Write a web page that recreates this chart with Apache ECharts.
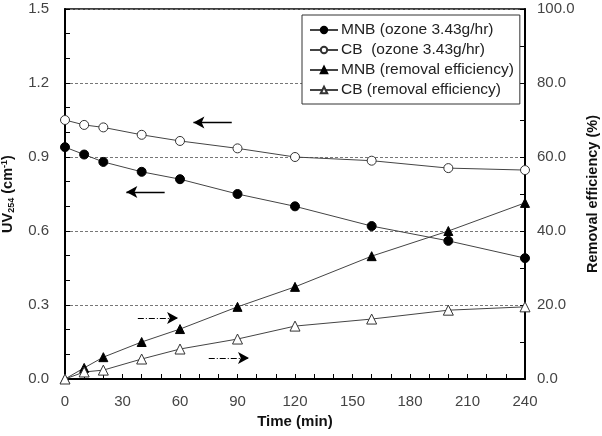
<!DOCTYPE html>
<html>
<head>
<meta charset="utf-8">
<script src="https://cdn.jsdelivr.net/npm/echarts@6/dist/echarts.min.js"></script>
<style>
	html, body { margin: 0; padding: 0; background: #fff; }
	#uvChart { width: 602px; height: 436px; }
</style>
</head>
<body>
<div id="uvChart"></div>
<script>

// sampling times (min)
var times = [0, 10, 20, 40, 60, 90, 120, 160, 200, 240];

// UV254 absorbance (cm-1), left axis
var mnbUV = [0.94, 0.91, 0.88, 0.84, 0.81, 0.75, 0.70, 0.62, 0.56, 0.49];
var cbUV = [1.05, 1.03, 1.02, 0.99, 0.965, 0.935, 0.90, 0.885, 0.855, 0.847];

// removal efficiency (%), right axis
var mnbRemoval = [0, 3.0, 5.9, 10.0, 13.5, 19.5, 24.9, 33.2, 40.0, 47.6];
var cbRemoval = [0, 1.9, 2.4, 5.4, 8.1, 10.8, 14.3, 16.2, 18.6, 19.5];

var legendNames = ['MNB (ozone 3.43g/hr)', 'CB  (ozone 3.43g/hr)', 'MNB (removal efficiency)', 'CB (removal efficiency)'];

// arrows telling which axis each pair of curves belongs to [x0, y0, x1, y1]
var leftArrows = [[87, 1.04, 67, 1.04], [52, 0.758, 32, 0.758]];
var rightArrows = [[38, 16.5, 59, 16.5], [75, 5.7, 96, 5.7]];

function pairUp(xs, ys) {
	return xs.map(function (x, i) {
		return [x, ys[i]];
	});
}

function arrowLines(list) {
	return list.map(function (a) {
		return [{ coord: [a[0], a[1]] }, { coord: [a[2], a[3]] }];
	});
}

var font = 'Liberation Sans, Arial, sans-serif';
var lineColor = '#444';

var uvChart = echarts.init(document.getElementById('uvChart'));

uvChart.setOption({
	animation: false,
	textStyle: { fontFamily: font },
	grid: {
		left: 65, right: 77, top: 9, bottom: 57,
		outerBoundsMode: 'none',
		show: true,
		borderColor: '#000',
		borderWidth: 1.5
	},
	legend: {
		orient: 'vertical',
		left: 302,
		top: 15,
		data: legendNames,
		itemWidth: 28,
		itemHeight: 8,
		itemGap: 4,
		padding: [7, 6, 6, 7],
		backgroundColor: '#fff',
		borderColor: '#333',
		borderWidth: 1,
		borderRadius: 0,
		textStyle: { fontFamily: font, fontSize: 15.5, color: '#222', padding: [0, 0, 0, -2] }
	},
	xAxis: {
		type: 'value',
		min: 0, max: 240, interval: 30,
		name: 'Time (min)',
		nameLocation: 'middle',
		nameGap: 32,
		nameTextStyle: { fontWeight: 'bold', fontSize: 15, color: '#111' },
		axisLine: { lineStyle: { color: '#000', width: 2 } },
		axisTick: { inside: true, length: 5, lineStyle: { color: '#000' } },
		minorTick: { show: true, splitNumber: 3, length: 5, lineStyle: { color: '#000' } },
		axisLabel: { fontSize: 15, color: '#444', margin: 15 },
		splitLine: { show: false }
	},
	yAxis: [{
		type: 'value',
		min: 0, max: 1.5, interval: 0.3,
		name: 'UV{sub|254} (cm{sup|-1})',
		nameLocation: 'middle',
		nameGap: 49,
		nameRotate: 90,
		nameTextStyle: {
			fontWeight: 'bold', fontSize: 14.5, color: '#111',
			rich: {
				sub: { fontSize: 9, fontWeight: 'bold', verticalAlign: 'bottom', padding: [7, 0, 0, 0] },
				sup: { fontSize: 9, fontWeight: 'bold', verticalAlign: 'top', padding: [0, 0, 6, 0] }
			}
		},
		axisLine: { show: true, lineStyle: { color: '#000', width: 2 } },
		axisTick: { inside: true, length: 5, lineStyle: { color: '#000' } },
		minorTick: { show: true, splitNumber: 3, length: 5, lineStyle: { color: '#000' } },
		axisLabel: {
			fontSize: 15, color: '#444', margin: 16,
			formatter: function (v) { return v.toFixed(1); }
		},
		splitLine: { show: true, lineStyle: { color: '#777', type: [3, 2], width: 1 } }
	}, {
		type: 'value',
		min: 0, max: 100, interval: 20,
		name: 'Removal efficiency (%)',
		nameLocation: 'middle',
		nameGap: 50,
		nameRotate: 90,
		nameTextStyle: { fontWeight: 'bold', fontSize: 14.5, color: '#111' },
		axisLine: { show: true, lineStyle: { color: '#000', width: 2 } },
		axisTick: { inside: true, length: 5, lineStyle: { color: '#000' } },
		minorTick: { show: true, splitNumber: 2, length: 5, lineStyle: { color: '#000' } },
		axisLabel: {
			fontSize: 15, color: '#444', margin: 12,
			formatter: function (v) { return v.toFixed(1); }
		},
		splitLine: { show: false }
	}],
	series: [{
		name: legendNames[0],
		type: 'line',
		yAxisIndex: 0,
		data: pairUp(times, mnbUV),
		symbol: 'circle', symbolSize: 9,
		lineStyle: { color: lineColor, width: 1 },
		itemStyle: { color: '#000', borderColor: '#000', borderWidth: 1 },
		markLine: {
			silent: true,
			symbol: ['none', 'arrow'],
			symbolSize: [9, 11],
			label: { show: false },
			lineStyle: { color: '#000', type: 'solid', width: 1.3 },
			data: arrowLines(leftArrows)
		},
		z: 4
	}, {
		name: legendNames[1],
		type: 'line',
		yAxisIndex: 0,
		data: pairUp(times, cbUV),
		symbol: 'circle', symbolSize: 9,
		lineStyle: { color: lineColor, width: 1 },
		itemStyle: { color: '#fff', borderColor: '#333', borderWidth: 1 },
		z: 4
	}, {
		name: legendNames[2],
		type: 'line',
		yAxisIndex: 1,
		data: pairUp(times, mnbRemoval),
		symbol: 'triangle', symbolSize: 9,
		lineStyle: { color: lineColor, width: 1 },
		itemStyle: { color: '#000', borderColor: '#000', borderWidth: 1 },
		markLine: {
			silent: true,
			symbol: ['none', 'arrow'],
			symbolSize: [9, 11],
			label: { show: false },
			lineStyle: { color: '#000', type: [6, 2, 1, 2], width: 1.2 },
			data: arrowLines(rightArrows)
		},
		z: 4
	}, {
		name: legendNames[3],
		type: 'line',
		yAxisIndex: 1,
		data: pairUp(times, cbRemoval),
		symbol: 'triangle', symbolSize: 10,
		lineStyle: { color: lineColor, width: 1 },
		itemStyle: { color: '#fff', borderColor: '#333', borderWidth: 1 },
		z: 4
	}]
});

</script>
</body>
</html>
